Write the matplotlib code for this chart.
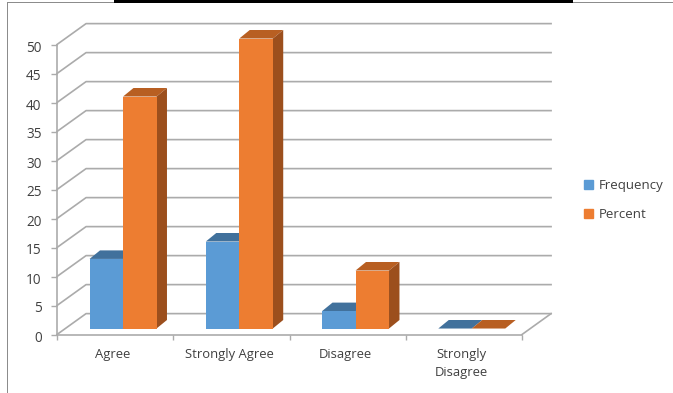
#!/usr/bin/env python3

import numpy as np
import matplotlib
matplotlib.use("Agg")
import matplotlib.pyplot as plt
from matplotlib.patches import Patch, Polygon, Rectangle
from matplotlib.transforms import ScaledTranslation

categories = ["Agree", "Strongly Agree", "Disagree", "Strongly\nDisagree"]
frequency = [12, 15, 3, 0]
percent = [40, 50, 10, 0]
y_ticks = [0, 5, 10, 15, 20, 25, 30, 35, 40, 45, 50]

BLUE = ("#5B9BD5", "#41719C", "#3F6F9A")
ORANGE = ("#ED7D31", "#B85F22", "#9C4F1D")
GRID = "#ABABAB"
TEXT = "#404040"

W, H = 673, 393

# depth of the box, and of the bars standing on its floor
WALL_DX, WALL_DY = 0.25, 3.6
BAR_DX, BAR_DY = 0.09, 1.47
BAR_BASE = 1.03
BAR_W = 0.288
BAR_START = 0.28


def draw_box(ax):
    n = len(categories)
    for v in y_ticks:
        xs = [0, WALL_DX, n + WALL_DX]
        ys = [v, v + WALL_DY, v + WALL_DY]
        ax.plot(xs, ys, color=GRID, lw=1.2, zorder=1, clip_on=False)
    # right edge of the floor
    ax.plot([n, n + WALL_DX], [0, WALL_DY], color=GRID, lw=1.2, zorder=1, clip_on=False)


def draw_bars(ax, x, values, colors):
    front, top, side = colors
    ax.bar(x, values, BAR_W, bottom=BAR_BASE, align="edge", color=front, zorder=3, clip_on=False)
    for xi, v in zip(x, values):
        y = BAR_BASE + v
        ax.add_patch(Polygon(
            [(xi, y), (xi + BAR_W, y), (xi + BAR_W + BAR_DX, y + BAR_DY), (xi + BAR_DX, y + BAR_DY)],
            color=top, lw=0, zorder=2.5, clip_on=False))
        ax.add_patch(Polygon(
            [(xi + BAR_W, BAR_BASE), (xi + BAR_W + BAR_DX, BAR_BASE + BAR_DY),
             (xi + BAR_W + BAR_DX, y + BAR_DY), (xi + BAR_W, y)],
            color=side, lw=0, zorder=2.5, clip_on=False))


def draw_frame(fig):
    # thin frame on the left and top, heavy rule along the top middle
    def px_rect(x0, y0, x1, y1, color):
        fig.add_artist(Rectangle((x0 / W, 1 - y1 / H), (x1 - x0) / W, (y1 - y0) / H,
                                 transform=fig.transFigure, color=color, lw=0))
    px_rect(7, 2, 8, H, "#8C8C8C")
    px_rect(7, 2, 114, 3, "#8C8C8C")
    px_rect(573, 2, W, 3, "#8C8C8C")
    px_rect(114, 0, 573, 3, "#000000")


def main():
    plt.rcParams["font.family"] = ["Open Sans", "DejaVu Sans"]
    fig = plt.figure(figsize=(W / 100, H / 100), dpi=100)
    ax = fig.add_axes([57 / W, 1 - 334.5 / H, (522 - 57) / W, 290 / H])
    ax.set_xlim(0, len(categories))
    ax.set_ylim(0, 50)

    draw_box(ax)
    base = np.arange(len(categories)) + BAR_START
    draw_bars(ax, base, frequency, BLUE)
    draw_bars(ax, base + BAR_W, percent, ORANGE)

    ax.spines[["top", "right"]].set_visible(False)
    ax.spines[["left", "bottom"]].set_color(GRID)
    ax.spines[["left", "bottom"]].set_linewidth(1.2)
    ax.set_facecolor("none")

    ax.set_yticks(y_ticks)
    ax.tick_params(axis="y", length=4.5, width=1, color=GRID, labelcolor=TEXT, labelsize=9.8, pad=6.5)
    # numbers sit a little below their ticks
    nudge = ScaledTranslation(0, -1.5 / 100, fig.dpi_scale_trans)
    for label in ax.get_yticklabels():
        label.set_transform(label.get_transform() + nudge)

    ax.set_xticks(np.arange(len(categories) + 1))
    ax.tick_params(axis="x", which="major", length=3.5, width=1, color=GRID, labelbottom=False)
    ax.set_xticks(np.arange(len(categories)) + 0.48, categories, minor=True)
    ax.tick_params(axis="x", which="minor", length=0, labelcolor=TEXT, labelsize=9.4, pad=10)
    for label in ax.get_xticklabels(minor=True):
        label.set_verticalalignment("top")
        label.set_linespacing(1.42)

    handles = [Patch(color=BLUE[0], label="Frequency"), Patch(color=ORANGE[0], label="Percent")]
    ax.legend(handles=handles, frameon=False, loc="center left",
              bbox_to_anchor=(582 / W, 1 - 200 / H), bbox_transform=fig.transFigure,
              fontsize=9.5, labelcolor=TEXT, handlelength=0.72, handleheight=0.72,
              handletextpad=0.4, labelspacing=1.2, borderpad=0.15, borderaxespad=0)

    draw_frame(fig)
    fig.savefig("out.png", dpi=100)


if __name__ == "__main__":
    main()
